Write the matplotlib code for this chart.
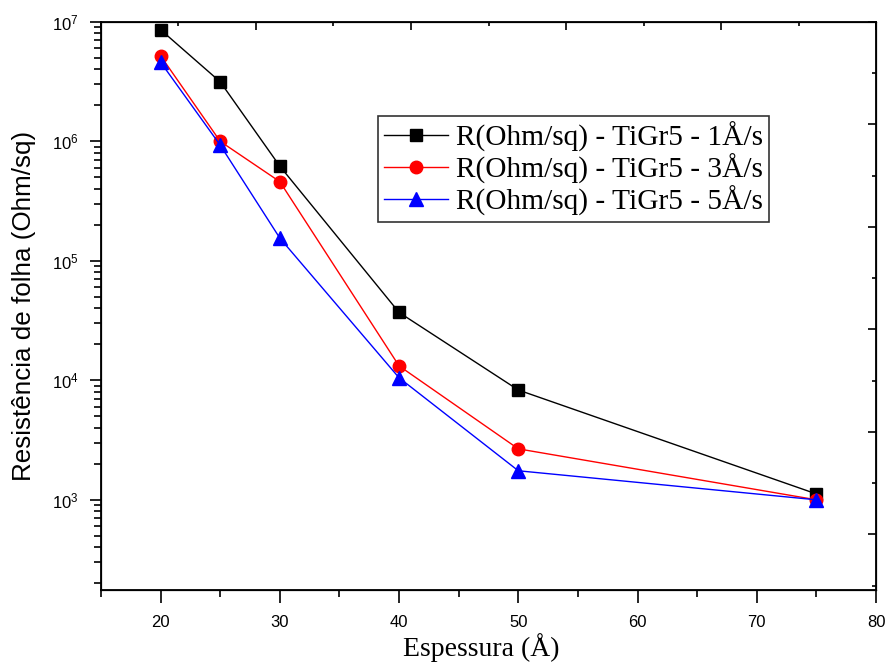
import numpy as np
import matplotlib
matplotlib.use("Agg")
import matplotlib.pyplot as plt
from matplotlib.ticker import LogLocator, NullFormatter, MultipleLocator

# Sheet resistance vs film thickness for three deposition rates
espessura = [20, 25, 30, 40, 50, 75]
r_1As = [8.6e6, 3.15e6, 6.2e5, 3.7e4, 8.3e3, 1.12e3]
r_3As = [5.2e6, 1.0e6, 4.6e5, 1.32e4, 2.67e3, 1.0e3]
r_5As = [4.6e6, 9.3e5, 1.55e5, 1.05e4, 1.75e3, 1.0e3]

labels = ["R(Ohm/sq) - TiGr5 - 1Å/s",
          "R(Ohm/sq) - TiGr5 - 3Å/s",
          "R(Ohm/sq) - TiGr5 - 5Å/s"]

plt.rcParams["font.family"] = ["Liberation Sans", "DejaVu Sans"]
plt.rcParams["mathtext.fontset"] = "custom"
plt.rcParams["mathtext.rm"] = "Liberation Sans"
plt.rcParams["mathtext.default"] = "regular"

fig = plt.figure(figsize=(8.89, 6.66), dpi=100)
ax = fig.add_axes([0.1136, 0.1141, 0.8718, 0.853])

ax.plot(espessura, r_1As, color="black", lw=1.0, marker="s", ms=9, label=labels[0])
ax.plot(espessura, r_3As, color="red", lw=1.0, marker="o", ms=9, label=labels[1])
ax.plot(espessura, r_5As, color="blue", lw=1.0, marker="^", ms=10, label=labels[2])

ax.set_yscale("log")
ax.set_xlim(15, 80)
ax.set_ylim(10 ** 2.245, 1e7)
ax.xaxis.set_major_locator(MultipleLocator(10))
ax.xaxis.set_minor_locator(MultipleLocator(5))
ax.yaxis.set_major_locator(LogLocator(base=10, numticks=10))
ax.yaxis.set_minor_locator(LogLocator(base=10, subs=np.arange(2, 10), numticks=20))
ax.yaxis.set_minor_formatter(NullFormatter())

ax.tick_params(which="both", direction="out", width=1.2, labelsize=12)
ax.tick_params(axis="x", which="major", length=9, pad=9)
ax.tick_params(axis="x", which="minor", length=5)
ax.tick_params(axis="y", which="major", length=8, pad=8)
ax.tick_params(axis="y", which="minor", length=5)
ax.tick_params(top=False, right=False)
for sp in ax.spines.values():
    sp.set_linewidth(1.3)

# unlabelled inner ticks along top and right edges
axt = ax.twiny()
axt.set_xlim(0, 5)
axt.xaxis.set_major_locator(MultipleLocator(1))
axt.xaxis.set_minor_locator(MultipleLocator(0.5))
axt.tick_params(which="both", direction="in", labeltop=False, width=1.2)
axt.tick_params(which="major", length=6)
axt.tick_params(which="minor", length=3)

axr = ax.twinx()
axr.set_ylim(568 / 102.5, 0)
axr.yaxis.set_major_locator(MultipleLocator(1))
axr.yaxis.set_minor_locator(MultipleLocator(0.5))
axr.tick_params(which="both", direction="in", labelright=False, width=1.2)
axr.tick_params(which="major", length=6)
axr.tick_params(which="minor", length=3)

ax.set_xlabel("Espessura (Å)", fontfamily="Liberation Serif", fontsize=20)
ax.xaxis.set_label_coords(0.49, -0.076, transform=ax.transAxes)
ax.xaxis.label.set_va("top")
ax.set_ylabel("Resistência de folha (Ohm/sq)", fontsize=18.7)
ax.yaxis.set_label_coords(-0.084, 0.5, transform=ax.transAxes)

leg = ax.legend(loc="upper left", bbox_to_anchor=(0.357, 0.8345),
                prop={"family": "Liberation Serif", "size": 21.2},
                frameon=True, fancybox=False, edgecolor="black",
                handlelength=2.2, handletextpad=0.25, labelspacing=0.05,
                borderpad=0.2, borderaxespad=0)
leg.get_frame().set_linewidth(1.2)

fig.savefig("out.png", dpi=100)
